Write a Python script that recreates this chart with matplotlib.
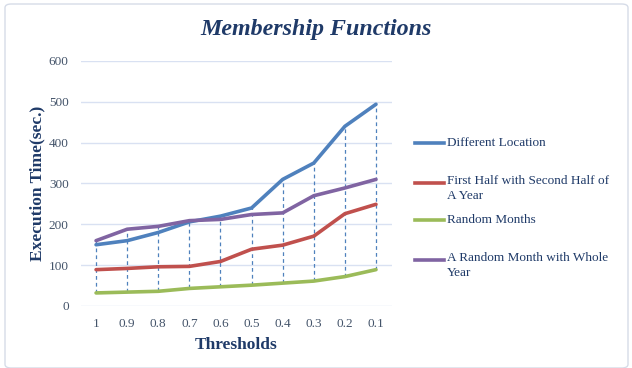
import matplotlib

matplotlib.use("Agg")
import matplotlib.pyplot as plt
import numpy as np
from matplotlib.lines import Line2D
from matplotlib.patches import FancyBboxPatch

thresholds = ["1", "0.9", "0.8", "0.7", "0.6", "0.5", "0.4", "0.3", "0.2", "0.1"]
different_location = [150, 160, 180, 206, 220, 240, 310, 350, 440, 494]
first_second_half = [89, 92, 96, 97, 109, 139, 149, 171, 226, 249]
random_months = [32, 34, 36, 43, 47, 51, 56, 61, 72, 89]
month_whole_year = [160, 188, 195, 209, 212, 224, 228, 270, 289, 310]

series = [
    ("Different Location", different_location, "#4F81BD"),
    ("First Half with Second Half of\nA Year", first_second_half, "#C0504D"),
    ("Random Months", random_months, "#9BBB59"),
    ("A Random Month with Whole\nYear", month_whole_year, "#8064A2"),
]

TXT = "#1F3A68"
TICK = "#44546A"
plt.rcParams["font.family"] = ["Liberation Serif", "DejaVu Serif"]

fig = plt.figure(figsize=(6.32, 3.68), dpi=100)
fig.patch.set_facecolor("white")
fig.add_artist(FancyBboxPatch((5 / 632, 0.0), 623 / 632, 1 - 4 / 368,
                              boxstyle="round,pad=0,rounding_size=0.01",
                              transform=fig.transFigure, fill=False,
                              ec="#D6DCE8", lw=1.0))

ax = fig.add_axes([0.1274, 0.1685, 0.4921, 0.6658])
x = np.arange(len(thresholds))

# high-low lines between max and min series at each threshold
data = np.array([s[1] for s in series])
ax.vlines(x, data.min(axis=0), data.max(axis=0), colors="#4F81BD",
          linestyles=(0, (3, 2.5)), lw=0.9, zorder=2)

for name, vals, col in series:
    ax.plot(x, vals, color=col, lw=2.6, solid_capstyle="round", zorder=3)

ax.set_xlim(-0.5, len(thresholds) - 0.5)
ax.set_ylim(0, 600)
ax.set_yticks(range(0, 601, 100))
ax.set_xticks(x)
ax.set_xticklabels(thresholds)
ax.tick_params(length=0, labelsize=9.5, colors=TICK)
ax.tick_params(axis="x", pad=9)
ax.tick_params(axis="y", pad=8.5)
ax.grid(axis="y", color="#D9E1F2", lw=1.0, zorder=0)
for sp in ax.spines.values():
    sp.set_visible(False)
ax.set_axisbelow(True)

ax.set_xlabel("Thresholds", fontsize=12.5, fontweight="bold", color=TXT, labelpad=5)
ax.set_ylabel("Execution Time(sec.)", fontsize=12.5, fontweight="bold", color=TXT)
ax.yaxis.set_label_coords(-(80.5 - 45) / 311, 0.5)
fig.text(0.5, 1 - 30 / 368, "Membership Functions", ha="center", va="center",
         fontsize=17.3, fontweight="bold", style="italic", color=TXT)

# legend, Excel style
leg_y = [143, 183, 220, 260]
for (name, vals, col), yy in zip(series, leg_y):
    fy = 1 - yy / 368
    fig.add_artist(Line2D([415 / 632, 444 / 632], [fy, fy], color=col, lw=2.6,
                          transform=fig.transFigure))
    if "\n" in name:
        fig.text(447 / 632, fy + 8 / 368, name, ha="left", va="top",
                 fontsize=9.5, color=TXT, linespacing=1.3)
    else:
        fig.text(447 / 632, fy, name, ha="left", va="center",
                 fontsize=9.5, color=TXT)

fig.savefig("out.png", dpi=100)
